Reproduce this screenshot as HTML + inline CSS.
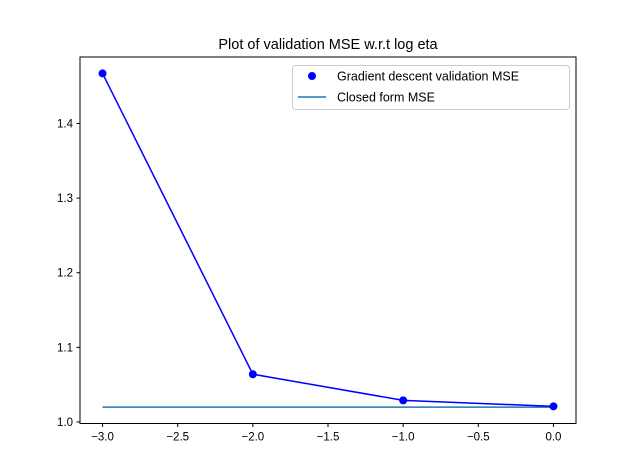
<!DOCTYPE html>
<html><head><meta charset="utf-8"><style>
body{margin:0;background:#fff;}
svg{display:block;font-family:"Liberation Sans","DejaVu Sans",sans-serif;}
</style></head><body>
<svg id="chart" width="640" height="476"></svg>
<script>
const xValues=[-3,-2,-1,0];
const mseValues=[1.467,1.064,1.029,1.021];
const closedForm=[1.020,1.020];
const closedX=[-3,0];
const xTicks=[-3.0,-2.5,-2.0,-1.5,-1.0,-0.5,0.0];
const yTicks=[1.0,1.1,1.2,1.3,1.4];

const L=80,R=576,T=57,B=423.5;
const xmin=-3.15,xmax=0.15;
const ymin=0.998,ymax=1.489;
function sx(v){return L+(v-xmin)/(xmax-xmin)*(R-L);}
function sy(v){return B-(v-ymin)/(ymax-ymin)*(B-T);}
const NS="http://www.w3.org/2000/svg";
const svg=document.getElementById('chart');
function mk(tag,attrs,parent){const e=document.createElementNS(NS,tag);for(const k in attrs)e.setAttribute(k,attrs[k]);(parent||svg).appendChild(e);return e;}

const title=mk('text',{x:(L+R)/2,y:49,'text-anchor':'middle','font-size':14.5,fill:'#000'});
title.textContent='Plot of validation MSE w.r.t log eta';



const cf=mk('line',{x1:sx(closedX[0]),y1:sy(closedForm[0]),x2:sx(closedX[1]),y2:sy(closedForm[1]),stroke:'#1f77b4','stroke-width':1.5});



const pts=xValues.map((x,i)=>sx(x)+','+sy(mseValues[i])).join(' ');
const gl=mk('polyline',{points:pts,fill:'none',stroke:'#0000ff','stroke-width':1.5});


xValues.forEach((x,i)=>{
  const c=mk('circle',{cx:sx(x),cy:sy(mseValues[i]),r:4,fill:'#0000ff'});
  
  
});

const fr=mk('rect',{x:L,y:T,width:R-L,height:B-T,fill:'none',stroke:'#000','stroke-width':1});



xTicks.forEach(t=>{
  const x=sx(t);
  mk('line',{x1:x,y1:B,x2:x,y2:B+3.5,stroke:'#000'});
  const tx=mk('text',{x:x,y:B+17,'text-anchor':'middle','font-size':11.5,fill:'#000'});
  tx.textContent=t.toFixed(1).replace('-','\u2212');
  
  
});
yTicks.forEach(t=>{
  const y=sy(t);
  mk('line',{x1:L-3.5,y1:y,x2:L,y2:y,stroke:'#000'});
  const tx=mk('text',{x:L-7,y:y+4,'text-anchor':'end','font-size':11.5,fill:'#000'});
  tx.textContent=t.toFixed(1);
  
  
});

const lg=mk('g',{});


mk('rect',{x:292.5,y:65.5,width:277,height:44,rx:3,fill:'#fff',stroke:'#ccc'},lg);
mk('circle',{cx:312,cy:76,r:4,fill:'#0000ff'},lg);
const t1=mk('text',{x:337,y:80.5,'font-size':12.5,fill:'#000'},lg);
t1.textContent='Gradient descent validation MSE';


mk('line',{x1:298,y1:97,x2:326,y2:97,stroke:'#1f77b4','stroke-width':1.5},lg);
const t2=mk('text',{x:337,y:101.5,'font-size':12.5,fill:'#000'},lg);
t2.textContent='Closed form MSE';


</script>
</body></html>
